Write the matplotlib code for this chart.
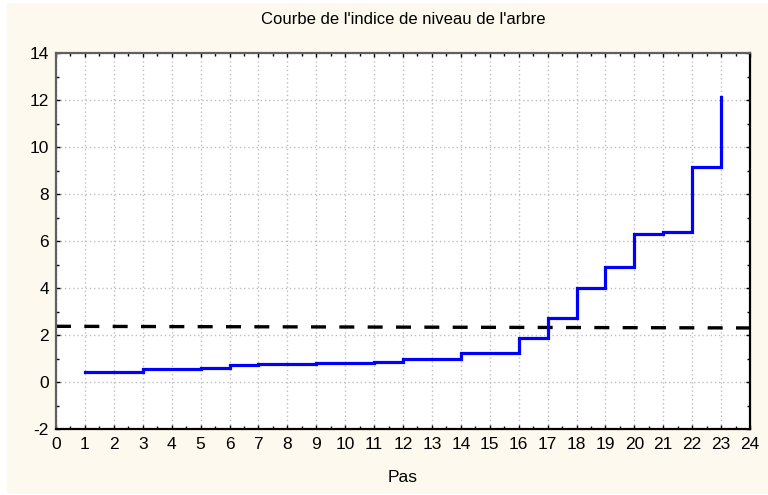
import matplotlib
matplotlib.use("Agg")
import matplotlib.pyplot as plt
from matplotlib.patches import Rectangle
from matplotlib.ticker import MultipleLocator

plt.rcParams['font.family'] = ['Liberation Sans', 'DejaVu Sans']
plt.rcParams['axes.unicode_minus'] = False

# Aggregation steps and the level index reached at each one
steps = [1, 2, 3, 4, 5, 6, 7, 8, 9, 10, 11, 12, 13, 14, 15, 16, 17, 18, 19, 20, 21, 22, 23]
level_index = [0.44, 0.44, 0.55, 0.55, 0.60, 0.71, 0.75, 0.75, 0.80, 0.80, 0.85, 0.98, 0.98,
               1.22, 1.22, 1.86, 2.74, 3.99, 4.88, 6.30, 6.37, 9.14, 12.11]

# Reference threshold line
threshold_x = [0, 24]
threshold_y = [2.37, 2.30]

title = "Courbe de l'indice de niveau de l'arbre"
xlabel = "Pas"

fig = plt.figure(figsize=(7.68, 4.95), dpi=100, facecolor='white')
fig.patches.append(Rectangle((7 / 768, 1 / 495), 1 - 7 / 768, 1 - 4 / 495,
                             transform=fig.transFigure, facecolor='#FEF9EE',
                             edgecolor='none', zorder=-10))

ax = fig.add_axes([56 / 768, 1 - 429 / 495, (750 - 56) / 768, (429 - 53) / 495])
ax.set_facecolor('white')

ax.plot(steps, level_index, drawstyle='steps-post', color='#0000FF', lw=2.3,
        solid_joinstyle='miter', zorder=3)
ax.plot(threshold_x, threshold_y, color='black', lw=2.4, ls=(0, (4.5, 4.0)), zorder=2)

ax.set_xlim(0, 24)
ax.set_ylim(-2, 14)
ax.xaxis.set_major_locator(MultipleLocator(1))
ax.xaxis.set_minor_locator(MultipleLocator(0.5))
ax.yaxis.set_major_locator(MultipleLocator(2))
ax.yaxis.set_minor_locator(MultipleLocator(1))

ax.grid(True, which='major', color='#BEBEBE', ls=(0, (1, 2)), lw=1.0)
ax.tick_params(which='both', direction='in', top=True, right=True,
               labelsize=12.5, colors='black')
ax.tick_params(axis='x', pad=6)
ax.tick_params(axis='y', pad=5)
ax.tick_params(which='major', length=3, width=1)
ax.tick_params(which='minor', length=2, width=1)

for side in ('top', 'left'):
    ax.spines[side].set_color('#606060')
    ax.spines[side].set_linewidth(1.6)
for side in ('bottom', 'right'):
    ax.spines[side].set_color('black')
    ax.spines[side].set_linewidth(1.6)

fig.text(403 / 768, 1 - 20 / 495, title, ha='center', va='center', fontsize=12)
fig.text(403 / 768, 1 - 478 / 495, xlabel, ha='center', va='center', fontsize=12.5)

fig.savefig("out.png", dpi=100)
